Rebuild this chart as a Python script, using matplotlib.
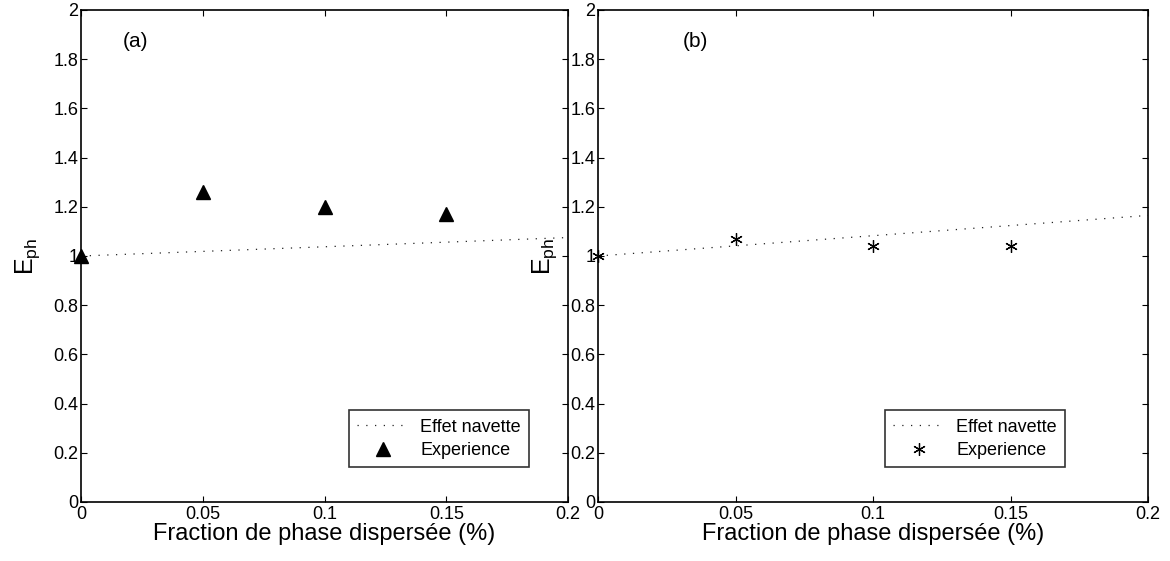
import matplotlib
matplotlib.use("Agg")
import matplotlib.pyplot as plt
import numpy as np

plt.rcParams['font.family'] = ['Liberation Sans', 'DejaVu Sans']
plt.rcParams['mathtext.fontset'] = 'custom'
plt.rcParams['mathtext.rm'] = 'Liberation Sans'

# data
frac = [0, 0.05, 0.1, 0.15]
exp_a = [1.0, 1.26, 1.20, 1.17]
exp_b = [1.0, 1.07, 1.04, 1.04]
line_x = [0, 0.2]
navette_a = [1.0, 1.075]
navette_b = [1.0, 1.165]

xticks = [0, 0.05, 0.1, 0.15, 0.2]
xticklabels = ['0', '0.05', '0.1', '0.15', '0.2']
yticks = np.arange(0, 2.01, 0.2)
yticklabels = ['0', '0.2', '0.4', '0.6', '0.8', '1', '1.2', '1.4', '1.6', '1.8', '2']

fig = plt.figure(figsize=(11.7, 5.61), dpi=100)
ax1 = fig.add_axes([81/1170, 1 - 502/561, 487/1170, 492/561])
ax2 = fig.add_axes([598/1170, 1 - 502/561, 550/1170, 492/561])

# legend right edge, in axes fractions
panels = [
    (ax1, exp_a, navette_a, '^', '(a)', 0.017, (529 - 81) / 487),
    (ax2, exp_b, navette_b, (6, 2, 0), '(b)', 0.031, (1065 - 598) / 550),
]

for ax, exp, nav, mk, tag, tx, lx in panels:
    ax.plot(line_x, nav, color='#222222', lw=0.9, ls=(0, (1, 6)),
            label='Effet navette')
    if tag == '(a)':
        ax.plot(frac, exp, ls='none', marker=mk, ms=10, color='black',
                clip_on=False, zorder=5, label='Experience')
    else:
        ax.plot(frac, exp, ls='none', marker=mk, ms=9, mec='black',
                mew=0.9, color='black', clip_on=False, zorder=5,
                label='Experience')
    ax.set_xlim(0, 0.2)
    ax.set_ylim(0, 2)
    ax.set_xticks(xticks)
    ax.set_xticklabels(xticklabels)
    ax.set_yticks(yticks)
    ax.set_yticklabels(yticklabels)
    ax.tick_params(direction='in', top=True, right=True, labelsize=13,
                   length=4, width=0.8)
    ax.tick_params(axis='x', pad=3)
    ax.tick_params(axis='y', pad=2)
    for s in ax.spines.values():
        s.set_linewidth(1.2)
    ax.set_xlabel('Fraction de phase dispersée (%)', fontsize=17, labelpad=0)
    ax.set_ylabel(r'$\mathregular{E_{ph}}$', fontsize=18, labelpad=8)
    ax.text(tx, 1.85, tag, fontsize=15)
    leg = ax.legend(loc='lower right', bbox_to_anchor=(lx, (502 - 467) / 492),
                    borderaxespad=0, fontsize=13, frameon=True,
                    fancybox=False, edgecolor='black', handlelength=2.9,
                    borderpad=0.45, labelspacing=0.35, handletextpad=0.6)
    leg.get_frame().set_linewidth(1.2)

fig.savefig('out.png', dpi=100, facecolor='white')
